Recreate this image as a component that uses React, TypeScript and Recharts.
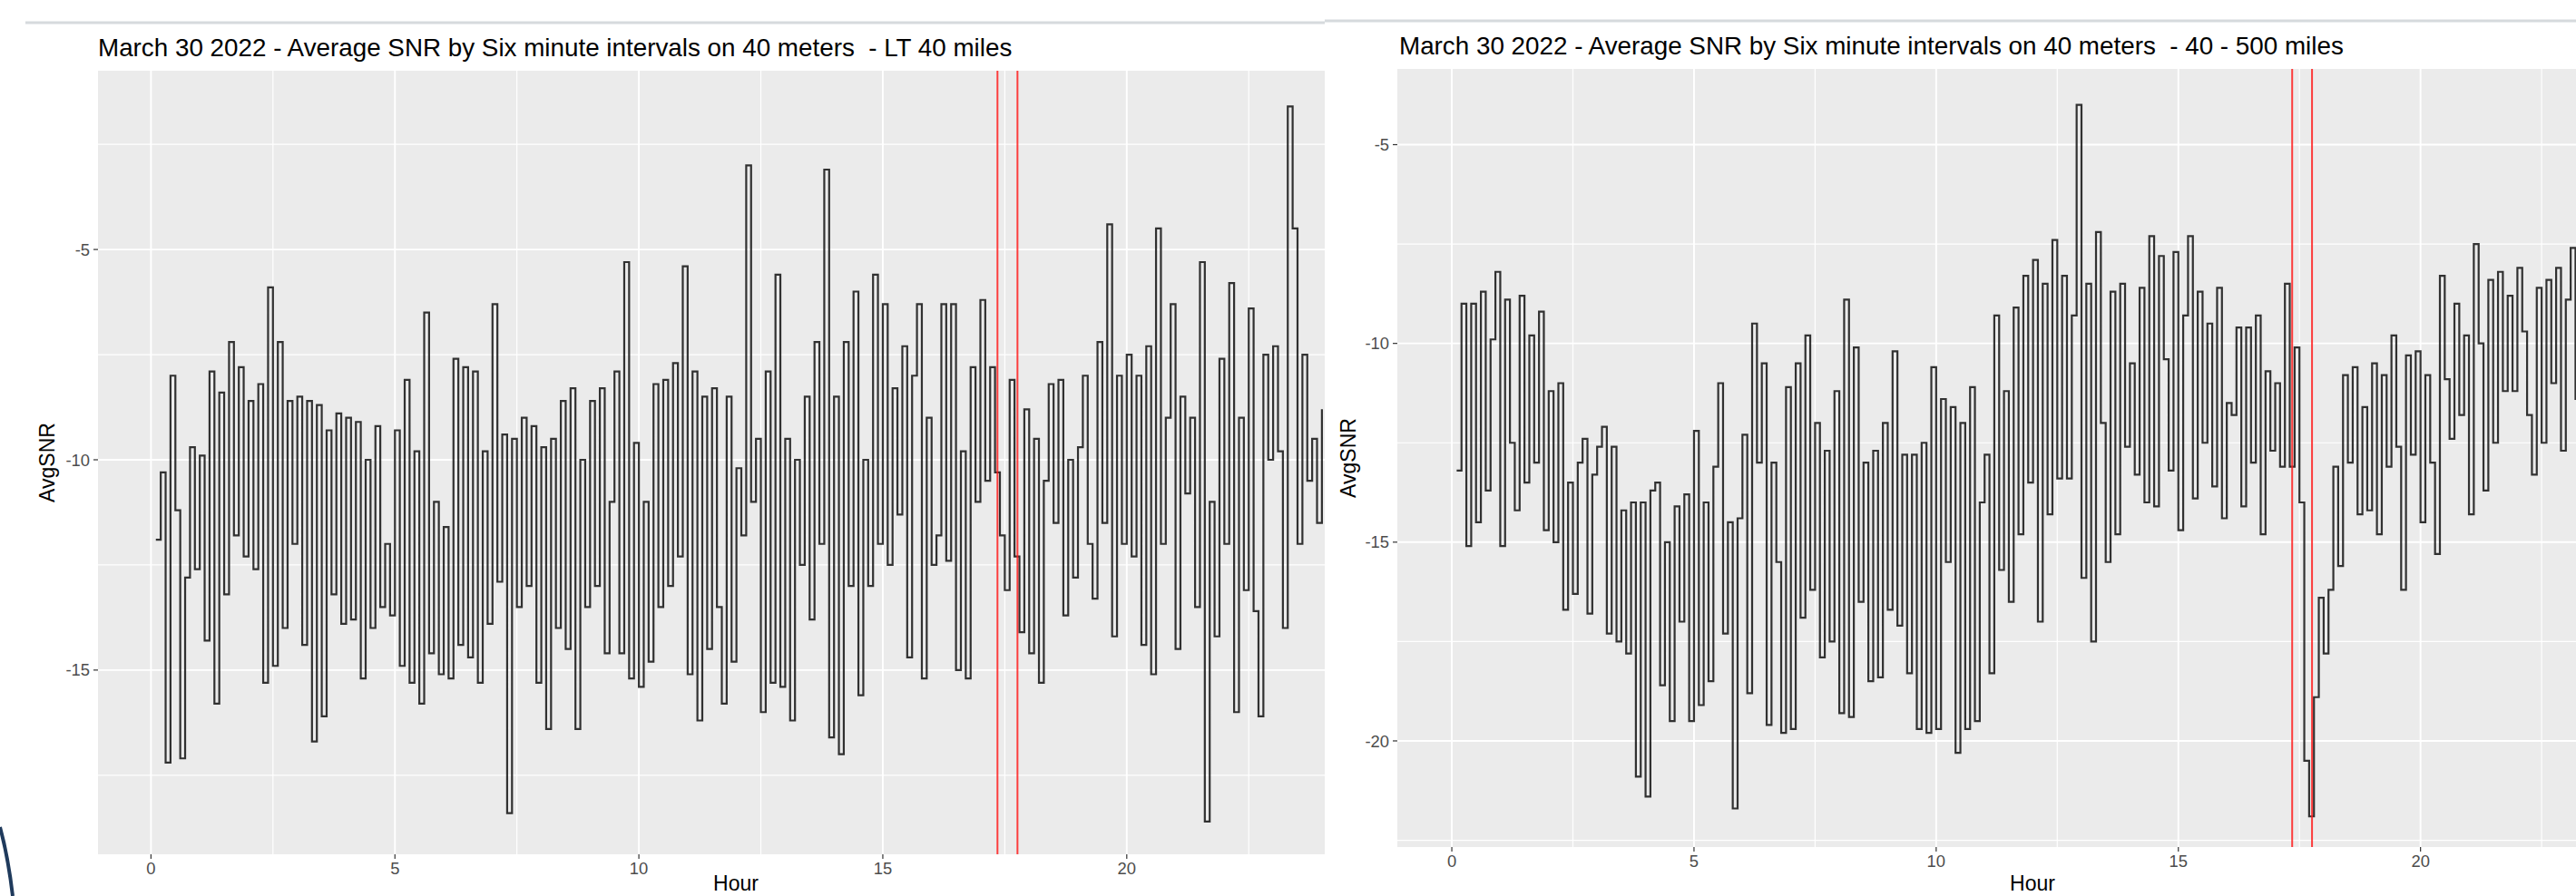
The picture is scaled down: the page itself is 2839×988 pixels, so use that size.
import React from 'react'
import { LineChart, Line, XAxis, YAxis, CartesianGrid, ReferenceLine } from 'recharts'

const FONT = '"Liberation Sans", Arial, Helvetica, sans-serif'

// hour axis (same for both panels)
const hourTicks = [0, 5, 10, 15, 20]
const hourMinor = [2.5, 7.5, 12.5, 17.5, 22.5]
// sunset markers
const sunsetHours = [17.35, 17.76]

// left panel: LT 40 miles
const leftSnrTicks = [-15, -10, -5]
const leftSnrMinor = [-17.5, -12.5, -7.5, -2.5]
// AvgSNR per six minute interval, hour 0.1 .. 24.0
const leftSnr = [
  -11.9, -10.3, -17.2, -8.0, -11.2, -17.1, -12.8, -9.7, -12.6, -9.9,
  -14.3, -7.9, -15.8, -8.4, -13.2, -7.2, -11.8, -7.8, -12.3, -8.6,
  -12.6, -8.2, -15.3, -5.9, -14.9, -7.2, -14.0, -8.6, -12.0, -8.5,
  -14.4, -8.6, -16.7, -8.7, -16.1, -9.3, -13.2, -8.9, -13.9, -9.0,
  -13.8, -9.1, -15.2, -10.0, -14.0, -9.2, -13.5, -12.0, -13.7, -9.3,
  -14.9, -8.1, -15.3, -9.8, -15.8, -6.5, -14.6, -11.0, -15.1, -11.6,
  -15.2, -7.6, -14.4, -7.8, -14.7, -7.9, -15.3, -9.8, -13.9, -6.3,
  -12.9, -9.4, -18.4, -9.5, -13.5, -9.0, -13.0, -9.2, -15.3, -9.7,
  -16.4, -9.5, -14.0, -8.6, -14.5, -8.3, -16.4, -10.0, -13.5, -8.6,
  -13.0, -8.3, -14.6, -11.0, -7.9, -14.6, -5.3, -15.2, -9.6, -15.4,
  -11.0, -14.8, -8.2, -13.5, -8.1, -13.0, -7.7, -12.3, -5.4, -15.1,
  -7.9, -16.2, -8.5, -14.5, -8.3, -13.5, -15.8, -8.5, -14.8, -10.2,
  -11.8, -3.0, -11.0, -9.5, -16.0, -7.9, -15.3, -5.6, -15.4, -9.5,
  -16.2, -10.0, -12.5, -8.5, -13.8, -7.2, -12.0, -3.1, -16.6, -8.5,
  -17.0, -7.2, -13.0, -6.0, -15.6, -10.0, -13.0, -5.6, -12.0, -6.3,
  -12.5, -8.3, -11.3, -7.3, -14.7, -8.0, -6.3, -15.2, -9.0, -12.5,
  -11.8, -6.3, -12.4, -6.3, -15.0, -9.8, -15.2, -7.8, -11.0, -6.2,
  -10.5, -7.8, -10.3, -11.8, -13.1, -8.1, -12.3, -14.1, -8.8, -14.6,
  -9.5, -15.3, -10.5, -8.2, -11.5, -8.1, -13.7, -10.0, -12.8, -9.7,
  -8.0, -12.0, -13.3, -7.2, -11.5, -4.4, -14.2, -8.0, -12.0, -7.5,
  -12.3, -8.0, -14.4, -7.3, -15.1, -4.5, -12.0, -9.0, -6.3, -14.5,
  -8.5, -10.8, -9.0, -13.5, -5.3, -18.6, -11.0, -14.2, -7.6, -12.0,
  -5.8, -16.0, -9.0, -13.1, -6.4, -13.6, -16.1, -7.5, -10.0, -7.3,
  -9.8, -14.0, -1.6, -4.5, -12.0, -7.5, -10.5, -9.5, -11.5, -8.8,
]

// right panel: 40 - 500 miles
const rightSnrTicks = [-20, -15, -10, -5]
const rightSnrMinor = [-22.5, -17.5, -12.5, -7.5]
// AvgSNR per six minute interval, hour 0.1 .. 23.4 (rest is off the crop)
const rightSnr = [
  -13.2, -9.0, -15.1, -9.0, -14.5, -8.7, -13.7, -9.9, -8.2, -15.1,
  -8.9, -12.5, -14.2, -8.8, -13.5, -9.8, -13.0, -9.2, -14.7, -11.2,
  -15.0, -11.0, -16.7, -13.5, -16.3, -13.0, -12.4, -16.8, -13.3, -12.6,
  -12.1, -17.3, -12.6, -17.5, -14.2, -17.8, -14.0, -20.9, -14.0, -21.4,
  -13.7, -13.5, -18.6, -15.0, -19.5, -14.1, -17.0, -13.8, -19.5, -12.2,
  -19.1, -14.0, -18.5, -13.1, -11.0, -17.3, -14.5, -21.7, -14.4, -12.3,
  -18.8, -9.5, -13.0, -10.5, -19.6, -13.0, -15.5, -19.8, -11.1, -19.7,
  -10.5, -16.9, -9.8, -16.2, -12.0, -17.9, -12.7, -17.5, -11.2, -19.3,
  -8.9, -19.4, -10.1, -16.5, -13.0, -18.5, -12.7, -18.4, -12.0, -16.7,
  -10.2, -17.1, -12.8, -18.3, -12.8, -19.7, -12.5, -19.8, -10.6, -19.7,
  -11.4, -15.5, -11.6, -20.3, -12.0, -19.7, -11.1, -19.5, -14.0, -12.8,
  -18.3, -9.3, -15.7, -11.2, -16.5, -9.1, -14.8, -8.3, -13.5, -7.9,
  -17.0, -8.5, -14.3, -7.4, -13.4, -8.3, -13.4, -9.3, -4.0, -15.9,
  -8.5, -17.5, -7.2, -12.0, -15.5, -8.7, -14.8, -8.5, -12.6, -10.5,
  -13.3, -8.6, -14.0, -7.3, -14.1, -7.8, -10.4, -13.2, -7.7, -14.7,
  -9.3, -7.3, -13.9, -8.7, -12.5, -9.5, -13.6, -8.6, -14.4, -11.5,
  -11.8, -9.6, -14.1, -9.6, -13.0, -9.3, -14.8, -10.7, -12.7, -11.0,
  -13.1, -8.5, -13.1, -10.1, -14.0, -20.5, -21.9, -18.9, -16.4, -17.8,
  -16.2, -13.1, -15.6, -10.8, -13.0, -10.6, -14.3, -11.6, -14.2, -10.5,
  -14.8, -10.8, -13.1, -9.8, -12.6, -16.2, -10.3, -12.8, -10.2, -14.5,
  -10.8, -13.0, -15.3, -8.3, -10.9, -12.4, -9.0, -11.8, -9.8, -14.3,
  -7.5, -10.0, -13.7, -8.4, -12.5, -8.2, -11.2, -8.8, -11.2, -8.1,
  -9.7, -11.8, -13.3, -8.6, -12.5, -8.4, -11.0, -8.1, -12.7, -8.9,
  -7.6, -11.4, -9.0, -11.0,
]

const toRows = (vals: number[]) => vals.map((v, i) => ({ hour: (i + 1) / 10, snr: v }))

interface PanelProps {
  rows: { hour: number; snr: number }[]
  left: number
  width: number
  top: number
  yAxisWidth: number
  xAxisHeight: number
  xDomain: [number, number]
  yDomain: [number, number]
  yTicks: number[]
  yMinor: number[]
}

function SnrPanel({ rows, left, width, top, yAxisWidth, xAxisHeight, xDomain, yDomain, yTicks, yMinor }: PanelProps) {
  const tickStyle = { fill: '#4d4d4d', fontSize: 18.4, fontFamily: FONT }
  return (
    <div style={{ position: 'absolute', left, top: 0 }}>
      <LineChart width={width} height={988} data={rows} margin={{ top, right: 0, bottom: 0, left: 0 }}>
        <CartesianGrid
          fill="#ebebeb"
          stroke="#ffffff"
          strokeWidth={1.2}
          horizontalValues={yMinor}
          verticalValues={hourMinor}
        />
        <CartesianGrid
          stroke="#ffffff"
          strokeWidth={1.9}
          horizontalValues={yTicks}
          verticalValues={hourTicks}
        />
        <XAxis
          type="number"
          dataKey="hour"
          domain={xDomain}
          allowDataOverflow
          ticks={hourTicks}
          interval={0}
          height={xAxisHeight}
          axisLine={false}
          tickLine={{ stroke: '#333333', strokeWidth: 1.2 }}
          tickSize={5}
          tickMargin={4}
          tick={tickStyle}
        />
        <YAxis
          type="number"
          domain={yDomain}
          allowDataOverflow
          ticks={yTicks}
          interval={0}
          width={yAxisWidth}
          axisLine={false}
          tickLine={{ stroke: '#333333', strokeWidth: 1.2 }}
          tickSize={5}
          tickMargin={4}
          tick={tickStyle}
        />
        <Line
          type="stepAfter"
          dataKey="snr"
          stroke="#111111"
          strokeWidth={2.2}
          strokeOpacity={0.85}
          dot={false}
          activeDot={false}
          isAnimationActive={false}
        />
        {sunsetHours.map((h) => (
          <ReferenceLine key={h} x={h} stroke="#ff1f1f" strokeWidth={2} strokeOpacity={0.85} />
        ))}
      </LineChart>
    </div>
  )
}

export default function App() {
  const leftTitle = 'March 30 2022 - Average SNR by Six minute intervals on 40 meters  - LT 40 miles'
  const rightTitle = 'March 30 2022 - Average SNR by Six minute intervals on 40 meters  - 40 - 500 miles'
  const titleStyle = { whiteSpace: 'pre' as const }
  return (
    <div
      style={{
        position: 'absolute',
        left: 0,
        top: 0,
        width: 2839,
        height: 988,
        overflow: 'hidden',
        background: '#ffffff',
        fontFamily: FONT,
      }}
    >
      <SnrPanel
        rows={toRows(leftSnr)}
        left={0}
        width={1460}
        top={78}
        yAxisWidth={108}
        xAxisHeight={46}
        xDomain={[-1.086, 24.058]}
        yDomain={[-19.38, -0.75]}
        yTicks={leftSnrTicks}
        yMinor={leftSnrMinor}
      />
      <SnrPanel
        rows={toRows(rightSnr)}
        left={1460}
        width={1379}
        top={76}
        yAxisWidth={80}
        xAxisHeight={54}
        xDomain={[-1.125, 23.21]}
        yDomain={[-22.67, -3.095]}
        yTicks={rightSnrTicks}
        yMinor={rightSnrMinor}
      />
      <svg
        width={2839}
        height={988}
        style={{ position: 'absolute', left: 0, top: 0, pointerEvents: 'none' }}
      >
        <line x1={28} y1={25} x2={1460} y2={25} stroke="#d6dadd" strokeWidth={3} />
        <line x1={1460} y1={23} x2={2839} y2={23} stroke="#d6dadd" strokeWidth={3} />
        <text x={108} y={62} fontSize={27.8} fill="#000" fontFamily={FONT} xmlSpace="preserve" style={titleStyle}>
          {leftTitle}
        </text>
        <text x={1542} y={60} fontSize={27.8} fill="#000" fontFamily={FONT} xmlSpace="preserve" style={titleStyle}>
          {rightTitle}
        </text>
        <text
          x={0}
          y={0}
          fontSize={23}
          fill="#000"
          fontFamily={FONT}
          textAnchor="middle"
          transform="translate(60 510) rotate(-90)"
        >
          AvgSNR
        </text>
        <text
          x={0}
          y={0}
          fontSize={23}
          fill="#000"
          fontFamily={FONT}
          textAnchor="middle"
          transform="translate(1494 505) rotate(-90)"
        >
          AvgSNR
        </text>
        <text x={811} y={982} fontSize={23} fill="#000" fontFamily={FONT} textAnchor="middle">
          Hour
        </text>
        <text x={2240} y={982} fontSize={23} fill="#000" fontFamily={FONT} textAnchor="middle">
          Hour
        </text>
        <path d="M 0 912 Q 9 945 14 988" fill="none" stroke="#1f3a5c" strokeWidth={4} />
      </svg>
    </div>
  )
}
